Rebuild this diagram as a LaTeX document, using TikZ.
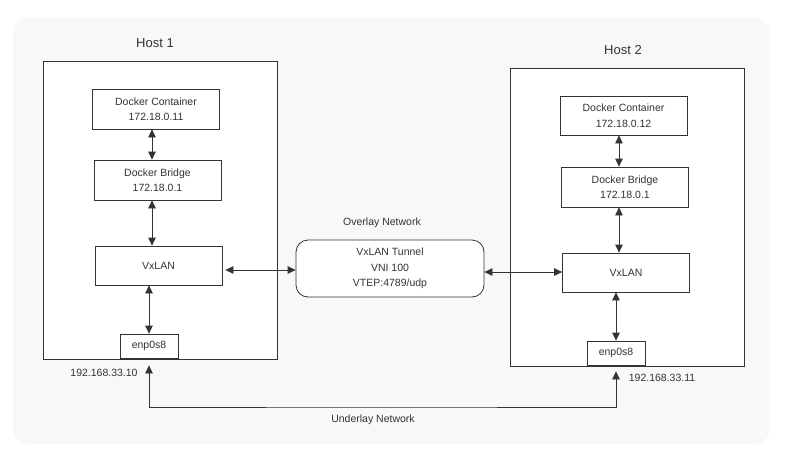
\documentclass[tikz,border=0pt]{standalone}
\usepackage{fontspec}
\setmainfont{Liberation Sans}
\usetikzlibrary{arrows.meta}
\definecolor{ink}{HTML}{333333}
\definecolor{canvas}{HTML}{F8F8F9}
\begin{document}
\begin{tikzpicture}[x=1pt,y=-1pt,
  every node/.style={text=ink,font=\fontsize{10.5}{15.5}\selectfont},
  hostbox/.style={draw=ink,fill=white,line width=0.8pt,minimum width=234pt,minimum height=298pt},
  unitbox/.style={draw=ink,fill=white,line width=0.8pt,minimum width=127pt,minimum height=40pt,align=center,inner sep=0pt},
  nicbox/.style={draw=ink,fill=white,line width=0.8pt,minimum width=58pt,minimum height=24pt,inner sep=0pt},
  tunnelbox/.style={draw=ink,fill=white,line width=0.8pt,rounded corners=12pt,minimum width=188pt,minimum height=57pt,align=center,inner sep=0pt},
  arr/.style={draw=ink,line width=0.8pt,{Triangle[length=8pt,width=7.5pt]}-{Triangle[length=8pt,width=7.5pt]}},
  hosttitle/.style={font=\fontsize{13}{15}\selectfont}]

\useasboundingbox (0,0) rectangle (787,448);
\fill[white] (0,0) rectangle (787,448);
\fill[canvas,rounded corners=16pt] (13,18) rectangle (770,444);

\node[hostbox] (host1) at (160,210) {};
\node[hostbox] (host2) at (627,217) {};
\node[hosttitle] (t1) at (155,43) {Host 1};
\node[hosttitle] (t2) at (623,50) {Host 2};

\node[unitbox] (c1) at (156,109) {Docker Container\\172.18.0.11};
\node[unitbox] (b1) at (157.5,180) {Docker Bridge\\172.18.0.1};
\node[unitbox,minimum height=39pt] (v1) at (158.5,265.5) {VxLAN};
\node[nicbox] (n1) at (149,346) {enp0s8};

\node[unitbox,minimum height=39pt] (c2) at (623.5,115.5) {Docker Container\\172.18.0.12};
\node[unitbox] (b2) at (625,187) {Docker Bridge\\172.18.0.1};
\node[unitbox,minimum height=39pt] (v2) at (626,272.5) {VxLAN};
\node[nicbox] (n2) at (616,353) {enp0s8};

\node[tunnelbox] (tun) at (390,268.5) {VxLAN Tunnel\\VNI 100\\VTEP:4789/udp};
\node (ovl) at (382,223) {Overlay Network};
\node (unl) at (373,420) {Underlay Network};
\node (ip1) at (104,373) {192.168.33.10};
\node (ip2) at (662,378) {192.168.33.11};
\coordinate (ul) at (380,407);

\draw[arr] (c1.south -| 152,0) -- (b1.north -| 152,0);
\draw[arr] (b1.south -| 152,0) -- (v1.north -| 152,0);
\draw[arr] (v1.south -| n1.north) -- (n1.north);
\draw[arr] (c2.south -| 619,0) -- (b2.north -| 619,0);
\draw[arr] (b2.south -| 619,0) -- (v2.north -| 619,0);
\draw[arr] (v2.south -| n2.north) -- (n2.north);
\draw[arr,shorten <=3pt] (v1.east |- 0,270) -- (tun.west |- 0,270);
\draw[arr] (tun.east |- 0,272) -- (v2.west |- 0,272);
\draw[arr,shorten <=7pt,shorten >=6pt] (n1.south) |- (ul) -| (n2.south);
\end{tikzpicture}
\end{document}
